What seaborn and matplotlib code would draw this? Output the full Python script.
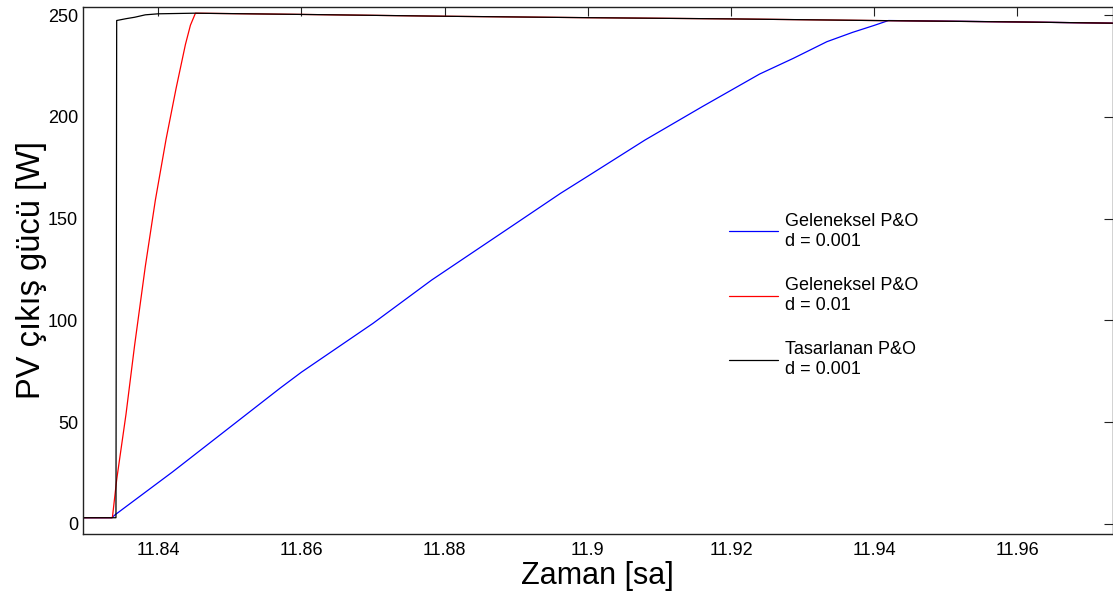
import numpy as np
import pandas as pd
import matplotlib
matplotlib.use("Agg")
import matplotlib.pyplot as plt
import seaborn as sns

# ---- data ----
t_blue = [11.8295, 11.8335, 11.8340, 11.8420, 11.8493, 11.8570, 11.8600, 11.8700,
          11.8782, 11.8900, 11.8962, 11.9000, 11.9080, 11.9160, 11.9240, 11.9287,
          11.9334, 11.9370, 11.9400, 11.9420, 11.9600, 11.9733]
p_blue = [3.0, 3.0, 4.5, 25.5, 45.5, 66.6, 74.5, 98.5,
          119.8, 147.7, 162.4, 170.8, 188.6, 205.0, 221.0, 228.7,
          236.9, 241.5, 244.9, 247.3, 246.6, 246.0]

t_red = [11.8295, 11.8336, 11.8342, 11.8355, 11.8367, 11.8382, 11.8396, 11.8411,
         11.8425, 11.8438, 11.8445, 11.8452, 11.8600, 11.8800, 11.9000, 11.9200,
         11.9300, 11.9400, 11.9600, 11.9733]
p_red = [3.0, 3.0, 21.7, 53.8, 87.6, 126.5, 159.0, 189.0,
         214.0, 235.5, 245.0, 250.9, 250.3, 249.4, 248.7, 248.1,
         247.7, 247.3, 246.6, 246.0]

t_black = [11.8295, 11.8341, 11.8342, 11.8355, 11.8367, 11.8382, 11.8400, 11.8450,
           11.8600, 11.8800, 11.9000, 11.9200, 11.9300, 11.9400, 11.9600, 11.9733]
p_black = [3.0, 3.0, 247.3, 248.2, 248.9, 250.1, 250.6, 250.9,
           250.3, 249.4, 248.7, 248.1, 247.7, 247.3, 246.6, 246.0]

labels = ["Geleneksel P&O\nd = 0.001", "Geleneksel P&O\nd = 0.01", "Tasarlanan P&O\nd = 0.001"]
colors = ["#0000ff", "#ff0000", "#000000"]

x_ticks = [11.84, 11.86, 11.88, 11.90, 11.92, 11.94, 11.96]
x_ticklabels = ["11.84", "11.86", "11.88", "11.9", "11.92", "11.94", "11.96"]
y_ticks = [0, 50, 100, 150, 200, 250]

df = pd.concat([
    pd.DataFrame({"t": t_blue, "p": p_blue, "s": labels[0]}),
    pd.DataFrame({"t": t_red, "p": p_red, "s": labels[1]}),
    pd.DataFrame({"t": t_black, "p": p_black, "s": labels[2]}),
], ignore_index=True)

sns.set_theme(style="white")
plt.rcParams["font.family"] = ["Liberation Sans", "DejaVu Sans"]
plt.rcParams["text.color"] = "black"
plt.rcParams["axes.labelcolor"] = "black"

fig = plt.figure(figsize=(11.13, 5.99), dpi=100)
ax = fig.add_axes([0.0746, 0.1085, 0.925, 0.880])

sns.lineplot(data=df, x="t", y="p", hue="s", hue_order=labels,
             palette=colors, estimator=None, sort=False, linewidth=0.9,
             legend=False, ax=ax)

ax.set_xlim(11.8295, 11.9733)
ax.set_ylim(-5, 254)
ax.set_xticks(x_ticks)
ax.set_xticklabels(x_ticklabels)
ax.set_yticks(y_ticks)
ax.tick_params(direction="in", length=6.5, width=0.8, color="#222222",
               labelsize=13, labelcolor="black", top=True, right=True)
ax.tick_params(axis="x", pad=5.5)
ax.tick_params(axis="y", pad=3.5)
for sp in ax.spines.values():
    sp.set_color("#222222")
    sp.set_linewidth(1.0)

ax.set_xlabel("Zaman [sa]", fontsize=22, color="black", labelpad=2)
ax.set_ylabel("PV çıkış gücü [W]", fontsize=23.5, color="black", labelpad=1)

handles = ax.get_lines()[:3]
leg = ax.legend(handles, labels, loc="upper left",
                bbox_to_anchor=(729 / 1113, 1 - 213 / 599),
                bbox_transform=fig.transFigure, frameon=False,
                fontsize=13, handlelength=2.7, handletextpad=0.4,
                labelspacing=1.52, borderpad=0, borderaxespad=0)
for txt in leg.get_texts():
    txt.set_color("black")

fig.savefig("out.png", dpi=100)
